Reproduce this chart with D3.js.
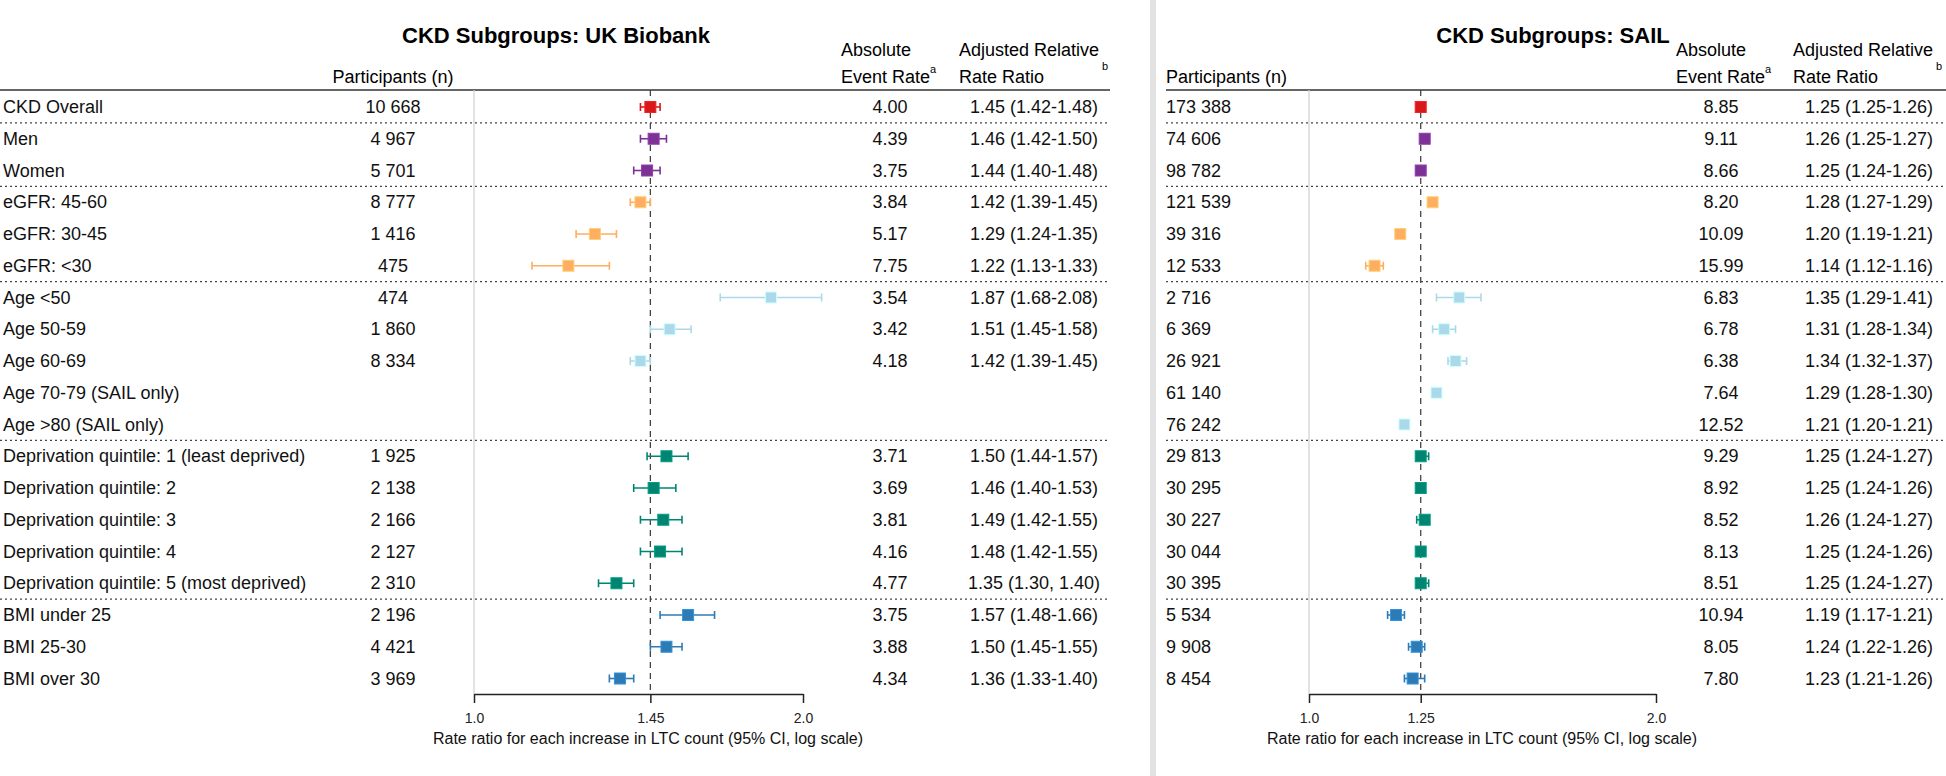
<!DOCTYPE html>
<html>
<head>
<meta charset="utf-8">
<script src="https://cdn.jsdelivr.net/npm/d3@7"></script>
<style>
  html, body { margin: 0; padding: 0; background: #fff; }
  svg { display: block; font-family: "Liberation Sans", Arial, sans-serif; }
</style>
</head>
<body>
<svg id="chart" width="1946" height="776"></svg>
<script>
// ---------------- DATA ----------------
const labels = ["CKD Overall","Men","Women","eGFR: 45-60","eGFR: 30-45","eGFR: <30",
  "Age <50","Age 50-59","Age 60-69","Age 70-79 (SAIL only)","Age >80 (SAIL only)",
  "Deprivation quintile: 1 (least deprived)","Deprivation quintile: 2","Deprivation quintile: 3",
  "Deprivation quintile: 4","Deprivation quintile: 5 (most deprived)",
  "BMI under 25","BMI 25-30","BMI over 30"];
const groups = [0,1,1,2,2,2,3,3,3,3,3,4,4,4,4,4,5,5,5];
const groupColors = ["#d7191c","#7b3294","#fdae61","#abd9e9","#018571","#2c7bb6"];

const ukbN = ["10 668","4 967","5 701","8 777","1 416","475","474","1 860","8 334","","",
  "1 925","2 138","2 166","2 127","2 310","2 196","4 421","3 969"];
const ukbRate = ["4.00","4.39","3.75","3.84","5.17","7.75","3.54","3.42","4.18","","",
  "3.71","3.69","3.81","4.16","4.77","3.75","3.88","4.34"];
const ukbRR = [1.45,1.46,1.44,1.42,1.29,1.22,1.87,1.51,1.42,null,null,1.50,1.46,1.49,1.48,1.35,1.57,1.50,1.36];
const ukbLo = [1.42,1.42,1.40,1.39,1.24,1.13,1.68,1.45,1.39,null,null,1.44,1.40,1.42,1.42,1.30,1.48,1.45,1.33];
const ukbHi = [1.48,1.50,1.48,1.45,1.35,1.33,2.08,1.58,1.45,null,null,1.57,1.53,1.55,1.55,1.40,1.66,1.55,1.40];
const ukbText = ["1.45 (1.42-1.48)","1.46 (1.42-1.50)","1.44 (1.40-1.48)","1.42 (1.39-1.45)",
  "1.29 (1.24-1.35)","1.22 (1.13-1.33)","1.87 (1.68-2.08)","1.51 (1.45-1.58)","1.42 (1.39-1.45)","","",
  "1.50 (1.44-1.57)","1.46 (1.40-1.53)","1.49 (1.42-1.55)","1.48 (1.42-1.55)","1.35 (1.30, 1.40)",
  "1.57 (1.48-1.66)","1.50 (1.45-1.55)","1.36 (1.33-1.40)"];
const ukbRef = 1.45;

const sailN = ["173 388","74 606","98 782","121 539","39 316","12 533","2 716","6 369","26 921",
  "61 140","76 242","29 813","30 295","30 227","30 044","30 395","5 534","9 908","8 454"];
const sailRate = ["8.85","9.11","8.66","8.20","10.09","15.99","6.83","6.78","6.38","7.64","12.52",
  "9.29","8.92","8.52","8.13","8.51","10.94","8.05","7.80"];
const sailRR = [1.25,1.26,1.25,1.28,1.20,1.14,1.35,1.31,1.34,1.29,1.21,1.25,1.25,1.26,1.25,1.25,1.19,1.24,1.23];
const sailLo = [1.25,1.25,1.24,1.27,1.19,1.12,1.29,1.28,1.32,1.28,1.20,1.24,1.24,1.24,1.24,1.24,1.17,1.22,1.21];
const sailHi = [1.26,1.27,1.26,1.29,1.21,1.16,1.41,1.34,1.37,1.30,1.21,1.27,1.26,1.27,1.26,1.27,1.21,1.26,1.26];
const sailText = ["1.25 (1.25-1.26)","1.26 (1.25-1.27)","1.25 (1.24-1.26)","1.28 (1.27-1.29)",
  "1.20 (1.19-1.21)","1.14 (1.12-1.16)","1.35 (1.29-1.41)","1.31 (1.28-1.34)","1.34 (1.32-1.37)",
  "1.29 (1.28-1.30)","1.21 (1.20-1.21)","1.25 (1.24-1.27)","1.25 (1.24-1.26)","1.26 (1.24-1.27)",
  "1.25 (1.24-1.26)","1.25 (1.24-1.27)","1.19 (1.17-1.21)","1.24 (1.22-1.26)","1.23 (1.21-1.26)"];
const sailRef = 1.25;

const ukbTicks = [1.0, 1.45, 2.0];
const sailTicks = [1.0, 1.25, 2.0];
const axisTitle = "Rate ratio for each increase in LTC count (95% CI, log scale)";

// ---------------- LAYOUT ----------------
const svg = d3.select("#chart");
const FS = 18;
const y = d3.scalePoint().domain(d3.range(labels.length)).range([107, 678.5]);
const step = y.step();
const topLineY = 90, axisY = 694;

// panel divider
svg.append("rect").attr("x", 1150).attr("y", 0).attr("width", 6).attr("height", 776).attr("fill", "#e2e2e2");

function panel(cfg) {
  const g = svg.append("g");
  const x = d3.scaleLog().domain([1, 2]).range(cfg.xr);

  // title
  g.append("text").attr("x", cfg.titleX).attr("y", 35).attr("text-anchor", "middle")
    .attr("dominant-baseline", "central").attr("font-size", 22).attr("font-weight", "bold")
    .attr("fill", "#000").text(cfg.title);

  // headers
  g.append("text").attr("x", cfg.nHeadX).attr("y", 77).attr("text-anchor", cfg.nAnchor)
    .attr("dominant-baseline", "central").attr("font-size", FS).text("Participants (n)");
  g.append("text").attr("x", cfg.rateHeadX).attr("y", 50).attr("dominant-baseline", "central")
    .attr("font-size", FS).text("Absolute");
  const er = g.append("text").attr("x", cfg.rateHeadX).attr("y", 77).attr("dominant-baseline", "central")
    .attr("font-size", FS);
  er.append("tspan").text("Event Rate");
  er.append("tspan").attr("font-size", 11).attr("dy", -8).text("a");
  g.append("text").attr("x", cfg.rrHeadX).attr("y", 50).attr("dominant-baseline", "central")
    .attr("font-size", FS).text("Adjusted Relative");
  g.append("text").attr("x", cfg.rrHeadX).attr("y", 77).attr("dominant-baseline", "central")
    .attr("font-size", FS).text("Rate Ratio");
  g.append("text").attr("x", cfg.bX).attr("y", 66).attr("dominant-baseline", "central")
    .attr("font-size", 11).text("b");

  // top rule
  g.append("line").attr("x1", cfg.lineX[0]).attr("x2", cfg.lineX[1]).attr("y1", topLineY).attr("y2", topLineY)
    .attr("stroke", "#333").attr("stroke-width", 1.6);

  // group separators
  const seps = d3.range(1, labels.length).filter(i => groups[i] !== groups[i - 1]);
  g.selectAll("line.sep").data(seps).join("line").attr("class", "sep")
    .attr("x1", cfg.lineX[0]).attr("x2", cfg.lineX[1])
    .attr("y1", i => y(i) - step / 2).attr("y2", i => y(i) - step / 2)
    .attr("stroke", "#444").attr("stroke-width", 1.4).attr("stroke-dasharray", "2,3");

  // reference lines
  g.append("line").attr("x1", x(1)).attr("x2", x(1)).attr("y1", topLineY).attr("y2", axisY)
    .attr("stroke", "#cfcfcf").attr("stroke-width", 1.2);
  g.append("line").attr("x1", x(cfg.ref)).attr("x2", x(cfg.ref)).attr("y1", topLineY).attr("y2", axisY)
    .attr("stroke", "#444").attr("stroke-width", 1.3).attr("stroke-dasharray", "6,5");

  // axis
  const ax = g.append("g").attr("transform", `translate(0,${axisY})`)
    .call(d3.axisBottom(x).tickValues(cfg.ticks).tickSize(9).tickSizeOuter(0).tickPadding(10)
      .tickFormat(d => d === 1 ? "1.0" : d === 2 ? "2.0" : String(d)));
  ax.select(".domain").attr("stroke", "#222").attr("stroke-width", 1.5);
  ax.selectAll(".tick line").attr("stroke", "#222").attr("stroke-width", 1.5);
  ax.selectAll(".tick text").attr("font-size", 14).attr("fill", "#222")
    .attr("font-family", "Liberation Sans, Arial, sans-serif");
  g.append("text").attr("x", cfg.axisTitleX).attr("y", 738).attr("text-anchor", "middle")
    .attr("dominant-baseline", "central").attr("font-size", 16).attr("fill", "#111").text(axisTitle);

  // rows
  const idx = d3.range(labels.length);
  if (cfg.showLabels) {
    g.selectAll("text.lab").data(idx).join("text").attr("class", "lab")
      .attr("x", 3).attr("y", i => y(i)).attr("dominant-baseline", "central")
      .attr("font-size", FS).attr("fill", "#111").text(i => labels[i]);
  }
  g.selectAll("text.n").data(idx).join("text").attr("class", "n")
    .attr("x", cfg.nX).attr("y", i => y(i)).attr("text-anchor", cfg.nAnchor)
    .attr("dominant-baseline", "central").attr("font-size", FS).attr("fill", "#111").text(i => cfg.n[i]);
  g.selectAll("text.rate").data(idx).join("text").attr("class", "rate")
    .attr("x", cfg.rateX).attr("y", i => y(i)).attr("text-anchor", "middle")
    .attr("dominant-baseline", "central").attr("font-size", FS).attr("fill", "#111").text(i => cfg.rate[i]);
  g.selectAll("text.rr").data(idx).join("text").attr("class", "rr")
    .attr("x", cfg.rrX).attr("y", i => y(i)).attr("text-anchor", "middle")
    .attr("dominant-baseline", "central").attr("font-size", FS).attr("fill", "#111").text(i => cfg.txt[i]);

  const pts = idx.filter(i => cfg.rr[i] != null);
  const cap = 4;
  const ci = g.selectAll("g.ci").data(pts).join("g").attr("class", "ci")
    .attr("stroke", i => groupColors[groups[i]]).attr("stroke-width", 1.6);
  ci.append("line").attr("x1", i => x(cfg.lo[i])).attr("x2", i => x(cfg.hi[i]))
    .attr("y1", i => y(i)).attr("y2", i => y(i));
  ci.append("line").attr("x1", i => x(cfg.lo[i])).attr("x2", i => x(cfg.lo[i]))
    .attr("y1", i => y(i) - cap).attr("y2", i => y(i) + cap);
  ci.append("line").attr("x1", i => x(cfg.hi[i])).attr("x2", i => x(cfg.hi[i]))
    .attr("y1", i => y(i) - cap).attr("y2", i => y(i) + cap);
  const s = 11;
  g.selectAll("rect.pt").data(pts).join("rect").attr("class", "pt")
    .attr("x", i => x(cfg.rr[i]) - s / 2).attr("y", i => y(i) - s / 2)
    .attr("width", s).attr("height", s)
    .attr("fill", i => groupColors[groups[i]])
    .attr("stroke", i => d3.color(groupColors[groups[i]]).brighter(0.5)).attr("stroke-width", 1);
}

panel({
  title: "CKD Subgroups: UK Biobank", titleX: 556,
  xr: [474, 803], ref: ukbRef, ticks: ukbTicks, axisTitleX: 648,
  lineX: [0, 1110], showLabels: true,
  nHeadX: 393, nX: 393, nAnchor: "middle",
  rateHeadX: 841, rateX: 890, rrHeadX: 959, rrX: 1034, bX: 1102,
  n: ukbN, rate: ukbRate, rr: ukbRR, lo: ukbLo, hi: ukbHi, txt: ukbText
});
panel({
  title: "CKD Subgroups: SAIL", titleX: 1553,
  xr: [1309, 1656], ref: sailRef, ticks: sailTicks, axisTitleX: 1482,
  lineX: [1166, 1946], showLabels: false,
  nHeadX: 1166, nX: 1166, nAnchor: "start",
  rateHeadX: 1676, rateX: 1721, rrHeadX: 1793, rrX: 1869, bX: 1936,
  n: sailN, rate: sailRate, rr: sailRR, lo: sailLo, hi: sailHi, txt: sailText
});
</script>
</body>
</html>
